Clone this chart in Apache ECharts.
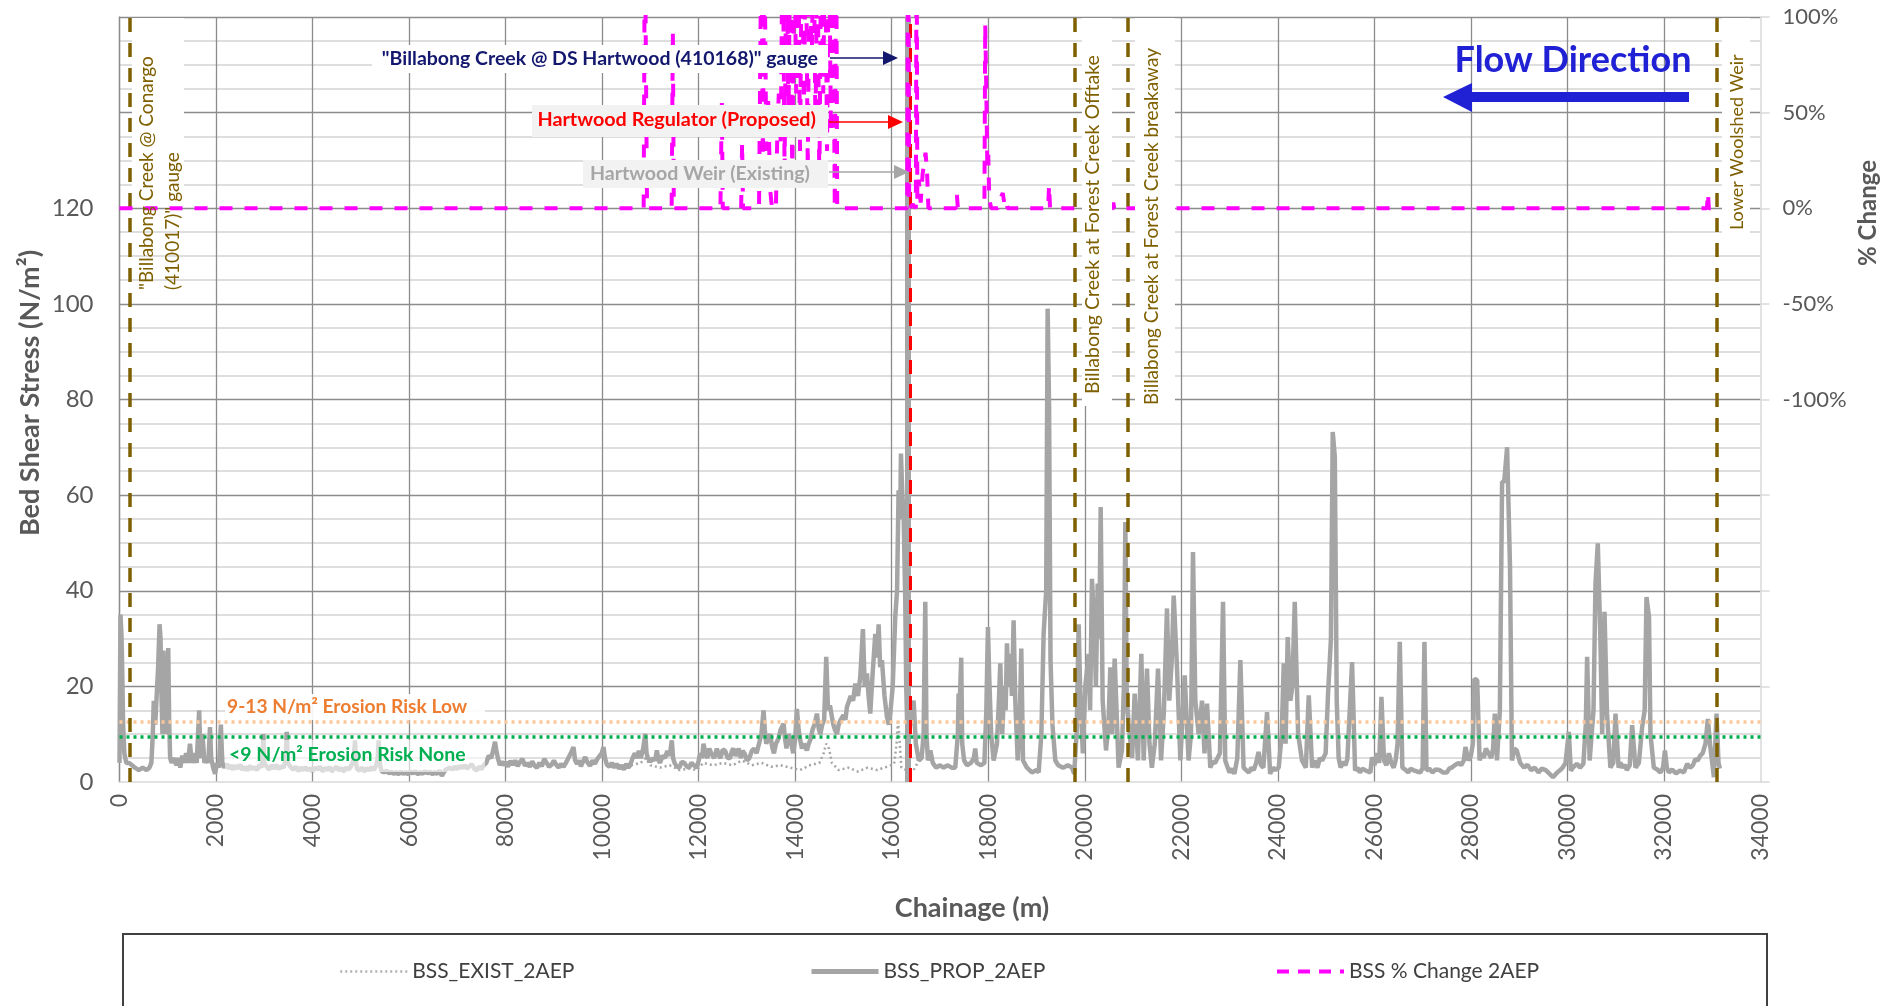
<!DOCTYPE html>
<html><head><meta charset="utf-8">
<script src="https://cdn.jsdelivr.net/npm/echarts@6/dist/echarts.min.js"></script>
<style>html,body{margin:0;padding:0;background:#fff}#c{width:1890px;height:1006px}</style>
</head><body><div id="c"></div>
<script>
// ---------------- DATA (chainage m, value) ----------------
const bssProp2AEP = [
[0,4],[20,35],[40,31],[55,24],[75,12],[100,6],[140,4],[200,4],[260,3.5],[320,3],[400,2.5],[480,3],[560,2.5],[620,3],[660,4],[690,10],[710,17],[740,12],[770,18],[800,24],[830,33],[850,30],[870,18],[890,10],[910,27.5],[930,15],[960,10],[990,20],[1010,28],[1030,12],[1050,5],[1080,4],[1120,5],[1180,3.5],[1220,5],[1260,3],[1300,5.5],[1340,4],[1380,6],[1420,4],[1460,8],[1500,4],[1550,6],[1600,4],[1650,15],[1680,5],[1720,10],[1760,4],[1800,5],[1840,4],[1875,11.5],[1900,5],[1940,3],[1980,1.7],[2020,4],[2060,3],[2100,12],
[2130,4],[2170,3],[2220,3.8],[2260,2.8],[2310,3.5],[2350,2.6],[2400,3.4],[2450,2.8],[2500,3.6],[2550,2.5],[2600,3.2],[2650,2.4],[2700,3.4],[2750,2.7],[2800,3.1],[2850,2.5],[2900,3.6],[2940,3],[2960,5],[2980,10],[3000,4],[3050,3.2],[3100,2.6],[3150,3.5],[3200,2.8],[3250,3.6],[3300,2.7],[3350,3.3],[3400,3],[3440,4.5],[3465,10.5],[3490,4],[3540,3.2],[3600,2.6],[3650,3.2],[3700,2.3],[3750,3],[3800,2.5],[3850,3.1],[3900,2.4],[3950,2.9],[4000,2.3],[4050,3],[4100,2.6],[4150,3.2],[4200,2.3],[4250,2.9],[4300,2.5],[4350,3.1],[4400,2.3],[4450,2.8],[4500,3.2],[4550,2.4],[4600,2.9],[4650,2.3],[4700,3],[4750,2.6],[4800,3.4],[4850,4.5],[4880,8.7],[4900,4],[4920,2.8],[4970,2.4],[5020,3],[5070,2.3],[5120,2.9],[5170,2.4],[5220,3.1],[5270,2.5],[5320,3.5],[5350,5],[5370,8.7],[5400,3.5],[5430,2.3],[5480,2],[5530,2.4],[5580,1.8],[5630,2.2],[5680,1.7],[5730,2.1],[5780,1.6],[5830,2.2],[5880,1.7],[5930,2.1],[5980,1.6],[6030,2.2],[6080,1.8],[6130,2.3],[6180,1.6],[6230,2.1],[6280,1.7],[6330,2.3],[6380,1.8],[6430,2.2],[6480,1.6],[6530,2.1],[6580,1.7],[6630,2.4],[6680,1.3],[6720,2],[6760,2.6],[6800,2.3],[6850,3],[6900,2.6],[6950,3.2],[7000,2.7],[7050,3.4],[7100,2.9],[7150,3.5],[7200,2.8],[7250,3.3],[7300,3.7],[7350,2.8],[7400,2.4],[7450,3.2],[7500,2.7],[7550,3.6],[7600,4],[7650,5.5],[7700,5],[7740,6.5],[7780,8.4],[7810,6.5],[7840,5],[7880,3.5],[7920,4.3],[7960,3.5],[8000,4.2],[8050,3.2],[8100,4.4],[8150,3.6],[8200,4.5],[8250,3.3],[8300,4.2],[8350,4.8],[8400,3.4],[8450,4],[8500,3.2],[8550,4.3],[8600,3.4],[8650,3],[8700,4],[8750,3.3],[8800,4.8],[8850,4],[8900,3.2],[8950,3.6],[9000,4.5],[9050,3.6],[9100,3],[9150,3.8],[9200,3.2],[9250,4],[9300,5],[9350,6],[9406,7.3],[9440,4.5],[9480,3.8],[9520,4.5],[9560,3.3],[9600,4.2],[9650,5.2],[9700,4],[9750,3.4],[9800,4.5],[9850,3.8],[9900,4.8],[9950,5.5],[9990,6],[10028,7.3],[10060,5],[10100,3.6],[10150,3.2],[10200,4],[10250,3],[10300,3.8],[10350,2.8],[10400,3.5],[10450,2.6],[10500,3.8],[10540,3],[10580,3.5],[10630,5],[10680,6],[10720,5],[10760,6.5],[10800,5],[10850,7],[10892,10.1],[10920,6],[10950,5],[11000,4.2],[11050,5],[11100,4.5],[11133,6.6],[11170,4.5],[11200,4],[11250,5.5],[11300,5],[11350,6.5],[11400,5.5],[11444,8.7],[11470,5],[11500,4],[11550,3.2],[11600,3],[11650,4.2],[11700,4],[11750,3.3],[11800,3],[11850,4],[11900,3.5],[11962,3],[12000,4.5],[12030,6],[12070,5],[12100,8],[12140,6],[12180,5],[12220,7],[12260,6],[12320,5],[12377,7],[12420,5.5],[12450,5],[12500,6.8],[12550,6.5],[12600,5],[12650,5],[12690,6.5],[12720,7],[12760,5.5],[12792,6],[12830,7],[12870,5],[12910,6.5],[12950,6],[13000,4.5],[13050,5],[13100,6.5],[13150,7],[13200,6],[13250,8],[13300,10],[13344,15],[13370,11],[13400,8],[13440,9],[13482,10],[13520,7.5],[13560,6],[13600,8],[13650,9],[13700,11],[13759,12.2],[13790,9],[13820,7],[13860,10],[13900,9],[13960,6],[14000,9],[14035,15.3],[14070,11],[14100,9],[14140,7],[14180,8],[14242,6.6],[14280,8],[14320,9],[14360,11],[14400,12],[14450,14.3],[14490,11],[14520,10],[14560,12],[14600,13],[14643,26.2],[14680,15],[14720,16],[14761,13.6],[14790,12],[14820,11],[14865,10],[14900,12],[14940,13],[15000,14],[15040,13],[15072,15.7],[15110,16],[15150,18],[15200,17],[15244,20.6],[15300,18],[15348,22],[15403,32],[15440,20],[15486,22.7],[15520,18],[15555,14.3],[15600,22],[15659,31],[15700,26],[15728,33],[15760,24],[15797,25.5],[15850,18],[15901,13.6],[15940,12],[15970,14.3],[16020,20],[16073,34.5],[16110,40],[16142,61],[16175,55],[16191,68.7],[16220,60],[16246,56],[16280,38],[16300,20],[16320,12],[16360,10],[16400,14],[16453,17],[16500,8],[16560,4.5],[16620,5],[16660,10],[16695,37.7],[16720,10],[16750,4.5],[16800,6.6],[16850,4],[16920,3],[17000,3.5],[17075,3],[17150,3.5],[17250,3],[17316,3],[17370,10],[17385,18.5],[17410,17],[17440,26],[17460,8],[17500,4.5],[17560,3.5],[17640,4],[17700,5],[17730,7],[17760,4],[17850,3.5],[17920,4],[17960,15],[17993,32.4],[18020,22],[18060,10],[18111,4.5],[18180,8],[18220,17],[18249,24.8],[18290,10],[18330,20],[18360,15],[18387,29],[18420,20],[18455,26.8],[18490,18],[18525,33.8],[18560,17],[18610,4.5],[18650,12],[18684,27.9],[18720,4.5],[18800,3],[18905,2],[19000,2.5],[19044,2],[19100,10],[19147,31],[19200,40],[19230,99],[19260,78.5],[19290,25.5],[19330,12],[19389,4.5],[19450,3.5],[19550,3],[19650,3.5],[19735,3],[19780,1.7],[19830,10],[19873,33],[19910,17],[19960,6],[20010,20],[20080,26.8],[20110,15],[20149,42.5],[20200,31],[20230,20],[20267,41.5],[20300,30],[20329,57.5],[20370,17],[20440,6.6],[20490,12],[20529,24],[20570,10],[20619,25.8],[20700,3],[20770,6.6],[20810,20],[20840,54.4],[20870,17],[20930,10],[20980,5],[21033,18.5],[21100,4.5],[21171,26.8],[21220,4.5],[21289,23.7],[21340,8],[21390,3],[21450,8],[21517,23.7],[21580,4.5],[21640,15],[21703,36.3],[21750,17],[21800,25],[21842,39],[21910,24],[21980,4.5],[22070,22.3],[22150,4.5],[22200,10],[22242,48.1],[22290,17],[22360,10],[22429,17],[22480,6],[22533,16.4],[22600,3],[22650,4.2],[22700,4],[22750,5],[22800,6],[22864,37.7],[22910,4.5],[22960,3],[23000,2],[23050,2.8],[23100,1.7],[23160,5],[23223,25.5],[23290,3],[23350,2.4],[23400,2],[23450,3],[23500,2.5],[23550,4],[23600,6.3],[23650,3.5],[23700,3],[23776,14.6],[23840,1.7],[23900,3],[23950,2.5],[24018,3],[24080,10],[24122,24.8],[24160,8],[24204,30.3],[24260,17],[24300,20],[24350,37.7],[24420,10],[24500,4.5],[24580,3],[24640,18.1],[24710,3],[24760,4.5],[24820,3],[24870,5],[24920,4.5],[24990,6],[25040,18.5],[25100,30],[25137,73.2],[25180,68],[25220,17],[25260,5],[25300,3],[25350,4.2],[25400,3.5],[25440,4.8],[25480,5],[25538,25.1],[25600,2.4],[25650,3],[25700,2],[25750,2.8],[25800,2.5],[25860,2.2],[25917,2],[25950,5.2],[26000,3.5],[26050,6],[26100,4],[26146,17.8],[26200,4.5],[26250,3.5],[26300,6],[26350,4],[26400,3],[26440,4.5],[26480,8],[26526,29.3],[26580,3],[26640,2.6],[26700,2],[26750,2.8],[26800,2.5],[26880,2.2],[26954,2],[27000,3],[27037,29.3],[27080,2.4],[27140,2.8],[27200,2],[27270,2.6],[27350,2.5],[27420,2],[27500,2],[27550,2.8],[27600,3],[27680,3.6],[27750,4],[27800,3.5],[27852,4.5],[27887,7.3],[27950,4.5],[28000,5.5],[28040,8],[28073,21.6],[28130,21.3],[28180,4.5],[28220,6],[28266,5],[28310,7],[28350,6.6],[28420,5],[28460,7],[28495,14.3],[28540,4.5],[28600,15],[28646,62.8],[28690,62.8],[28750,70],[28790,70],[28810,45],[28850,4.5],[28900,7],[28950,6.6],[29020,4],[29100,3],[29170,3.6],[29250,2.5],[29320,3],[29400,2],[29470,2.8],[29550,2.5],[29620,1.8],[29700,1],[29787,2],[29850,2.5],[29900,3],[29960,4],[30028,10.5],[30070,2.4],[30130,3.2],[30200,3.8],[30260,3],[30330,3.8],[30380,12],[30408,26.2],[30460,4.5],[30540,15],[30581,41.5],[30629,49.9],[30680,31],[30720,10],[30768,35.6],[30820,14.3],[30890,3],[30950,4],[30996,14.3],[31060,3],[31100,4],[31150,3],[31190,3.6],[31230,2.5],[31290,3.5],[31341,11.9],[31410,3],[31480,4],[31548,11.5],[31600,15],[31638,38.7],[31690,34.5],[31720,10],[31790,3],[31860,2.6],[31928,2],[31980,3],[32020,6.6],[32060,3],[32100,2],[32170,2.6],[32250,1.8],[32330,2.4],[32412,2],[32481,3.8],[32540,3],[32600,3.5],[32650,4.8],[32700,4.5],[32750,5.5],[32800,6],[32860,8],[32909,13.2],[32960,7.3],[33000,4],[33034,1],[33089,14.3],[33130,4],[33158,2.8]
];
const bssExist2AEP = [
[10600,3.5],[10800,4],[10900,5],[11000,3.5],[11200,3],[11400,3.5],[11600,2.5],[11800,2.8],[11960,2.5],[12100,4],[12300,3.5],[12500,4],[12700,3.5],[12900,4.5],[13100,3.5],[13300,4],[13500,3.2],[13700,3.5],[13900,3],[14100,2.5],[14300,3.5],[14500,4],[14590,6],[14640,8],[14700,7],[14760,4],[14900,2.5],[15100,3],[15300,2.2],[15500,3],[15700,2.5],[15900,3.2],[16050,3.8],[16100,8],[16130,13],[16160,9],[16200,3],[16300,2.5],[16450,2.4],[16560,4.5]
];
const bssChange2AEP = [
[0,0],[10860,0],[10885,150],[10905,150],[10930,0],[11440,0],[11465,92],[11485,0],[12450,0],[12480,55],[12500,0],[12880,0],[12900,34],[12920,0],
[13250,0],[13300,150],[13330,20],[13360,150],[13400,30],[13440,56],[13480,10],[13520,0],[13600,0],[13630,40],[13660,60],[13700,35],[13740,150],[13780,20],[13820,150],[13860,45],[13900,150],[13940,10],[13980,150],[14020,60],[14060,150],[14100,30],[14140,150],[14180,50],[14220,150],[14260,20],[14300,150],[14340,70],[14380,150],[14420,40],[14460,150],[14500,10],[14540,150],[14580,60],[14620,150],[14660,30],[14700,150],[14740,40],[14780,150],[14820,0],[14850,150],[14870,0],
[16320,0],[16338,160],[16350,160],[16362,0],[16440,2],[16500,0],[16515,160],[16530,5],[16560,15],[16600,3],[16640,18],[16700,29],[16730,20],[16760,0],
[17330,0],[17350,7],[17370,0],[17920,0],[17937,96],[17960,60],[17980,22],[18000,28],[18020,5],[18060,0],[18200,0],[18250,5],[18300,8],[18330,3],[18360,5],[18400,0],[19240,0],[19260,12],[19280,0],[20570,0],[20590,3],[20610,0],[32890,0],[32910,8],[32930,0],[33160,0]
];
const xTicks = {min: 0, max: 34000, step: 2000};
const leftTicks = {min: 0, max: 160, step: 20, labelMax: 120};
const rightTicks = {min: -300, max: 100, step: 50, labelMin: -100};
const siteChainages = [220, 19800, 20900, 33090];
const weirChainage = 16336;
const regulatorChainage = 16383;
const riskNone = 9.4;
const riskLow = 12.6;

// ---------------- CHART ----------------
const FONT = 'Lato';
const TXT = '#595959';
const brown = '#7F6000';
const chart = echarts.init(document.getElementById('c'), null, {renderer: 'canvas'});

function vText(x, y, text, size, color, weight, align) {
  return {type: 'text', x: x, y: y, rotation: Math.PI / 2, z: 60,
    style: {text: text, font: (weight || 'normal') + ' ' + size + 'px ' + FONT, fill: color, align: align || 'left', verticalAlign: 'middle'}};
}
function rect(x, y, w, h, fill, z) {
  return {type: 'rect', shape: {x: x, y: y, width: w, height: h}, z: z || 50, style: {fill: fill}};
}
function arrow(x1, x2, y, color) {
  return [
    {type: 'line', z: 60, shape: {x1: x1, y1: y, x2: x2 - 12, y2: y}, style: {stroke: color, lineWidth: 1.5}},
    {type: 'polygon', z: 60, shape: {points: [[x2, y], [x2 - 15, y - 7], [x2 - 15, y + 7]]}, style: {fill: color}}
  ];
}
function legendFor(name, left, lineStyle) {
  return {data: [{name: name}], left: left, top: 956, itemWidth: 67, itemHeight: 14,
    itemStyle: {opacity: 0}, lineStyle: lineStyle,
    textStyle: {fontFamily: FONT, fontSize: 21, color: '#404040'}};
}

const option = {
  backgroundColor: '#fff',
  animation: false,
  grid: {left: 119.5, right: 129.5, top: 17, bottom: 224},
  xAxis: {
    type: 'value', min: xTicks.min, max: xTicks.max, interval: xTicks.step,
    axisLine: {show: true, lineStyle: {color: '#D9D9D9', width: 1.5}},
    axisTick: {show: false},
    axisLabel: {rotate: 90, margin: 12, fontFamily: FONT, fontSize: 23, color: TXT, formatter: v => String(v)},
    splitLine: {show: true, showMaxLine: false, lineStyle: {color: '#8C8C8C', width: 1.3}}
  },
  yAxis: [{
    type: 'value', min: leftTicks.min, max: leftTicks.max, interval: leftTicks.step,
    axisLine: {show: true, lineStyle: {color: '#8C8C8C', width: 1.3}},
    axisTick: {show: false},
    axisLabel: {margin: 26, fontFamily: FONT, fontSize: 24, color: TXT,
      formatter: v => v <= leftTicks.labelMax ? String(v) : ''},
    splitLine: {show: true, showMinLine: false, lineStyle: {color: '#8C8C8C', width: 1.3}},
    minorTick: {show: false, splitNumber: 4},
    minorSplitLine: {show: true, lineStyle: {color: '#D4D4D4', width: 1.5}}
  }, {
    type: 'value', position: 'right', min: rightTicks.min, max: rightTicks.max, interval: rightTicks.step,
    axisLine: {show: true, lineStyle: {color: '#D9D9D9', width: 1.5}},
    axisTick: {show: true, length: 9, lineStyle: {color: '#D9D9D9', width: 1.5}},
    axisLabel: {margin: 22, fontFamily: FONT, fontSize: 22, color: TXT,
      formatter: v => v >= rightTicks.labelMin ? v + '%' : ''},
    splitLine: {show: false}
  }],
  legend: [
    legendFor('BSS_EXIST_2AEP', 334, {width: 2.5, type: [2, 3], color: '#B0B0B0'}),
    legendFor('BSS_PROP_2AEP', 804, {width: 5, type: 'solid', color: '#A5A5A5'}),
    legendFor('BSS % Change 2AEP', 1270, {width: 4, type: [12, 9], color: '#FF00FF'})
  ],
  series: [
    {name: 'BSS_EXIST_2AEP', type: 'line', data: bssExist2AEP, symbol: 'none', z: 3,
      lineStyle: {color: '#A6A6A6', width: 2.5, type: [2, 3]}, itemStyle: {color: '#A6A6A6'}},
    {name: 'BSS_PROP_2AEP', type: 'line', data: bssProp2AEP, symbol: 'none', z: 4,
      lineStyle: {color: '#A5A5A5', width: 4.5}, itemStyle: {color: '#A5A5A5'},
      markLine: {silent: true, symbol: ['none', 'none'], label: {show: false}, animation: false,
        data: [
          {xAxis: weirChainage, lineStyle: {color: '#A6A6A6', width: 6, type: 'solid'}},
          {yAxis: riskLow, lineStyle: {color: '#FBC89A', width: 3.5, type: [3, 4]}},
          {yAxis: riskNone, lineStyle: {color: '#00B050', width: 3.5, type: [3, 4]}}
        ]}},
    {name: 'markers', type: 'line', data: [], z: 5,
      markLine: {silent: true, symbol: ['none', 'none'], label: {show: false}, animation: false,
        data: siteChainages.map(c => ({xAxis: c, lineStyle: {color: brown, width: 3.5, type: [14, 11]}}))
          .concat([{xAxis: regulatorChainage, lineStyle: {color: '#FF0000', width: 3, type: [14, 10]}}])}},
    {name: 'BSS % Change 2AEP', type: 'line', yAxisIndex: 1, data: bssChange2AEP, symbol: 'none', z: 6,
      lineStyle: {color: '#FF00FF', width: 4, type: [13, 12]}, itemStyle: {color: '#FF00FF'}}
  ],
  graphic: {elements: [].concat(
    [rect(132, 18, 52, 187, '#fff'), rect(1082, 18, 30, 388, '#fff'), rect(1135, 18, 40, 388, '#fff'), rect(1722, 18, 28, 215, '#fff')],
    [vText(147, 290, '"Billabong Creek @ Conargo', 19, brown), vText(173, 290, '(410017)" gauge', 19, brown),
     vText(1093, 394, 'Billabong Creek at Forest Creek Offtake', 19.5, brown),
     vText(1152, 405, 'Billabong Creek at Forest Creek breakaway', 19, brown),
     vText(1737, 230, 'Lower Woolshed Weir', 18, brown)],
    [rect(372, 45, 456, 28, '#fff'), rect(532, 105, 296, 32, '#F2F2F2'), rect(583, 160, 245, 28, '#F2F2F2')],
    [{type: 'text', x: 818, y: 59, z: 60, style: {text: '"Billabong Creek @ DS Hartwood (410168)" gauge', font: 'bold 19.5px ' + FONT, fill: '#13186E', align: 'right', verticalAlign: 'middle'}},
     {type: 'text', x: 816, y: 120, z: 60, style: {text: 'Hartwood Regulator (Proposed)', font: 'bold 19.8px ' + FONT, fill: '#FF0000', align: 'right', verticalAlign: 'middle'}},
     {type: 'text', x: 810, y: 174, z: 60, style: {text: 'Hartwood Weir (Existing)', font: 'bold 19.6px ' + FONT, fill: '#A6A6A6', align: 'right', verticalAlign: 'middle'}}],
    arrow(830, 898, 58, '#13186E'), arrow(829, 903, 122, '#FF0000'), arrow(829, 909, 172, '#A6A6A6'),
    [rect(225, 694, 260, 26, 'rgba(255,255,255,0.9)'), rect(225, 740, 260, 32, 'rgba(255,255,255,0.6)')],
    [{type: 'text', x: 227, y: 707, z: 60, style: {text: '9-13 N/m\u00B2 Erosion Risk Low', font: 'bold 19.2px ' + FONT, fill: '#ED7D31', align: 'left', verticalAlign: 'middle'}},
     {type: 'text', x: 229, y: 755, z: 60, style: {text: '<9 N/m\u00B2 Erosion Risk None', font: 'bold 19.5px ' + FONT, fill: '#00B050', align: 'left', verticalAlign: 'middle'}}],
    [{type: 'text', x: 1573, y: 60, z: 60, style: {text: 'Flow Direction', font: 'bold 36px ' + FONT, fill: '#2020D4', align: 'center', verticalAlign: 'middle'}},
     {type: 'polygon', z: 60, shape: {points: [[1443, 97], [1472, 83], [1472, 92], [1689, 92], [1689, 102], [1472, 102], [1472, 112]]}, style: {fill: '#2020D4'}}],
    // axis titles
    [vText(30, 393, 'Bed Shear Stress (N/m\u00B2)', 27, TXT, 'bold', 'center'),
     vText(1868, 213, '% Change', 24, TXT, 'bold', 'center'),
     {type: 'text', x: 972, y: 908, z: 60, style: {text: 'Chainage (m)', font: 'bold 27px ' + FONT, fill: TXT, align: 'center', verticalAlign: 'middle'}}],
    [{type: 'rect', z: 1, shape: {x: 123, y: 934, width: 1644, height: 100}, style: {fill: 'none', stroke: '#404040', lineWidth: 2}}]
  )}
};
chart.setOption(option);
</script>
</body></html>
